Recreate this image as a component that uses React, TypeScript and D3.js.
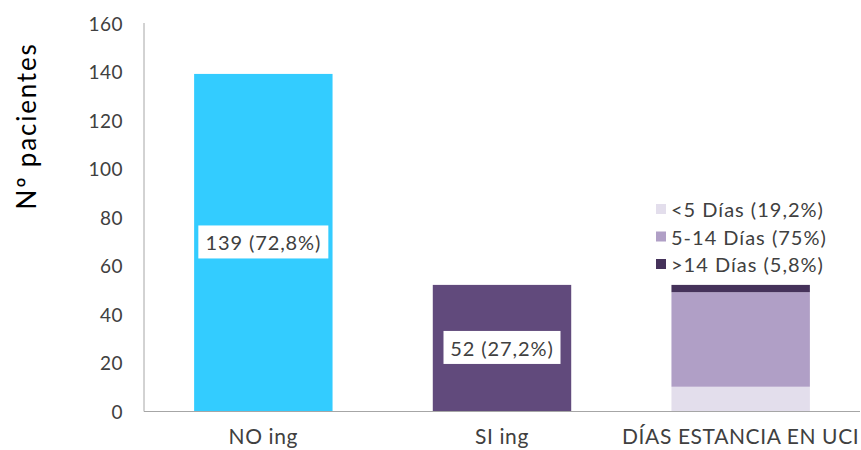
import React from "react";
import * as d3 from "d3";

const categories = ["NO ing", "SI ing", "DÍAS ESTANCIA EN UCI"];
const simpleValues = [139, 52];
const simpleLabels = ["139 (72,8%)", "52 (27,2%)"];
const simpleColors = ["#33CCFF", "#614A7C"];
const stackKeys = ["<5 Días (19,2%)", "5-14 Días (75%)", ">14 Días (5,8%)"];
const stackValues = [10, 39, 3];
const stackColors = ["#E3DEEC", "#B09FC6", "#45325A"];
const yTicks = [0, 20, 40, 60, 80, 100, 120, 140, 160];

const W = 861, H = 450;
const FONT = "Lato, 'Open Sans', sans-serif";

export default function App() {
  const x = d3.scaleBand<string>().domain(categories).range([144, 860]).paddingInner(0.42).paddingOuter(0.21);
  const y = d3.scaleLinear().domain([0, 160]).range([411, 23]);
  const bw = x.bandwidth();
  const stack = d3.stack<any>().keys(stackKeys)([Object.fromEntries(stackKeys.map((k, i) => [k, stackValues[i]]))]);
  const cx3 = x(categories[2])!;
  return (
    <div style={{ position: "fixed", left: 0, top: 0 }}>
      <svg width={W} height={H} style={{ display: "block", fontFamily: FONT }}>
        <rect width={W} height={H} fill="#fff" />
        {simpleValues.map((v, i) => {
          const bx = x(categories[i])!;
          return (
            <g key={i}>
              <rect x={bx} y={y(v)} width={bw} height={y(0) - y(v)} fill={simpleColors[i]} />
            </g>
          );
        })}
        {stack.map((s, i) => (
          <rect key={i} x={cx3} y={y(s[0][1])} width={bw} height={y(s[0][0]) - y(s[0][1])} fill={stackColors[i]} />
        ))}
        {simpleValues.map((v, i) => {
          const cx = x(categories[i])! + bw / 2;
          const cy = y(v / 2);
          const bwid = i === 0 ? 130 : 117;
          return (
            <g key={"l" + i}>
              <rect x={cx - bwid / 2} y={cy - 17} width={bwid} height={33} fill="#fff" />
              <text x={cx} y={cy} textAnchor="middle" dominantBaseline="central" fontSize={20} letterSpacing={0.9} fill="#404040">{simpleLabels[i]}</text>
            </g>
          );
        })}
        <line x1={144} x2={144} y1={23} y2={411.5} stroke="#A6A6A6" strokeWidth={1} />
        <line x1={144} x2={860} y1={411.5} y2={411.5} stroke="#A6A6A6" strokeWidth={1} />
        {yTicks.map((t) => (
          <text key={t} x={123} y={y(t)} textAnchor="end" dominantBaseline="central" fontSize={19} letterSpacing={0.5} fill="#404040">{t}</text>
        ))}
        {categories.map((c) => (
          <text key={c} x={x(c)! + bw / 2} y={444} textAnchor="middle" fontSize={21} letterSpacing={0.6} fill="#404040">{c}</text>
        ))}
        <text transform={`translate(26,126) rotate(-90)`} textAnchor="middle" dominantBaseline="central" fontSize={26} letterSpacing={1.8} fill="#000">Nº pacientes</text>
        {stackKeys.map((k, i) => {
          const ly = 209 + i * 27.5;
          return (
            <g key={k}>
              <rect x={656} y={ly - 5} width={10} height={10} fill={stackColors[i]} />
              <text x={671} y={ly} dominantBaseline="central" fontSize={20} letterSpacing={1} fill="#404040">{k}</text>
            </g>
          );
        })}
      </svg>
    </div>
  );
}
